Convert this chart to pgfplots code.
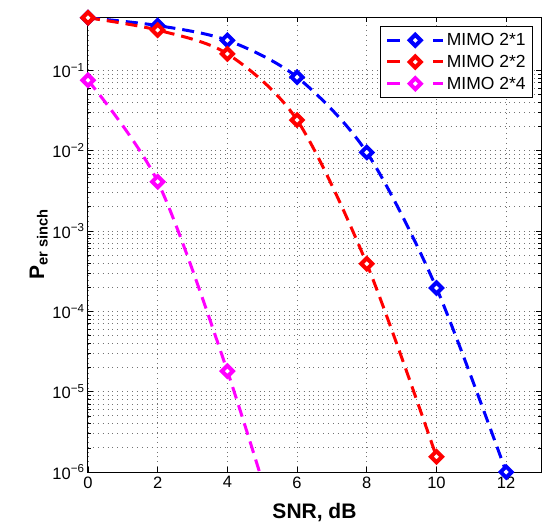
\documentclass[border=0pt]{standalone}
\usepackage{fontspec}
\setmainfont{Liberation Sans}
\usepackage{pgfplots}
\pgfplotsset{compat=1.18}
\newcommand{\legimg}[1]{%
    \draw[#1, solid, mark=none] (0pt,0pt) -- (13pt,0pt);
    \draw[#1, solid, mark=none] (46pt,0pt) -- (56pt,0pt);
    \draw[#1, solid] plot coordinates {(28pt,0pt)};}
\pgfplotsset{mylegend/.style={legend image code/.code={\legimg{##1}}}}
\begin{document}
\begin{tikzpicture}[x=1pt,y=1pt]
\path[use as bounding box] (0,0) rectangle (552,525);
\begin{axis}[
  at={(88pt,53pt)}, anchor=south west,
  scale only axis, width=453pt, height=455pt,
  ymode=log, xmin=0, xmax=13, ymin=1e-6, ymax=0.46,
  xtick={0,2,4,6,8,10,12},
  ytick={1e-6,1e-5,1e-4,1e-3,1e-2,1e-1},
  yticklabels={10\textsuperscript{−6},10\textsuperscript{−5},10\textsuperscript{−4},10\textsuperscript{−3},10\textsuperscript{−2},10\textsuperscript{−1}},
  /pgf/number format/assume math mode=true,
  tick label style={font=\fontsize{16.5}{19}\selectfont},
  xticklabel style={yshift=-1pt},
  tick align=inside, major tick length=5pt, minor tick length=3pt,
  axis line style={line width=1pt},
  every tick/.style={black, line width=0.6pt},
  xmajorgrids, ymajorgrids, yminorgrids,
  grid style={black!55, line width=0.7pt, dash pattern=on 0.9pt off 4pt},
  minor grid style={black!55, line width=0.7pt, dash pattern=on 0.9pt off 4pt},
  xlabel={\bfseries SNR, dB},
  ylabel={\bfseries P\textsubscript{er sinch}},
  label style={font=\fontsize{21}{24}\selectfont},
  xlabel style={at={(axis description cs:0.5,-0.1011)}, anchor=base, inner sep=0pt},
  ylabel style={at={(axis description cs:-0.0883,0.5)}, anchor=south, inner sep=0pt},
  legend style={at={(0.9823,0.9802)}, anchor=north east, font=\fontsize{17.5}{20}\selectfont,
    draw=black, line width=0.8pt, row sep=4pt, inner xsep=5pt, inner ysep=5pt},
  legend cell align=left,
  every axis plot/.append style={line width=3pt, dash pattern=on 12pt off 7pt, smooth,
    mark=square*, mark size=3.9pt, mark options={solid, fill=white, line width=4pt, rotate=45}},
  clip=true,
]
\addplot[color={rgb,255:red,0;green,0;blue,255}, mylegend] coordinates {
 (0,0.45) (2,0.36) (4,0.236) (6,0.082) (8,0.0095) (10,1.95e-4) (12,1e-6)};
\addlegendentry{MIMO 2*1}
\addplot[color={rgb,255:red,255;green,0;blue,0}, mylegend] coordinates {
 (0,0.45) (2,0.316) (4,0.16) (6,0.024) (8,3.9e-4) (10,1.55e-6)};
\addlegendentry{MIMO 2*2}
\addplot[color={rgb,255:red,255;green,0;blue,255}, mylegend] coordinates {
 (0,0.075) (2,0.0041) (4,1.8e-5) (6,3e-8)};
\addlegendentry{MIMO 2*4}
\end{axis}
\end{tikzpicture}
\end{document}
